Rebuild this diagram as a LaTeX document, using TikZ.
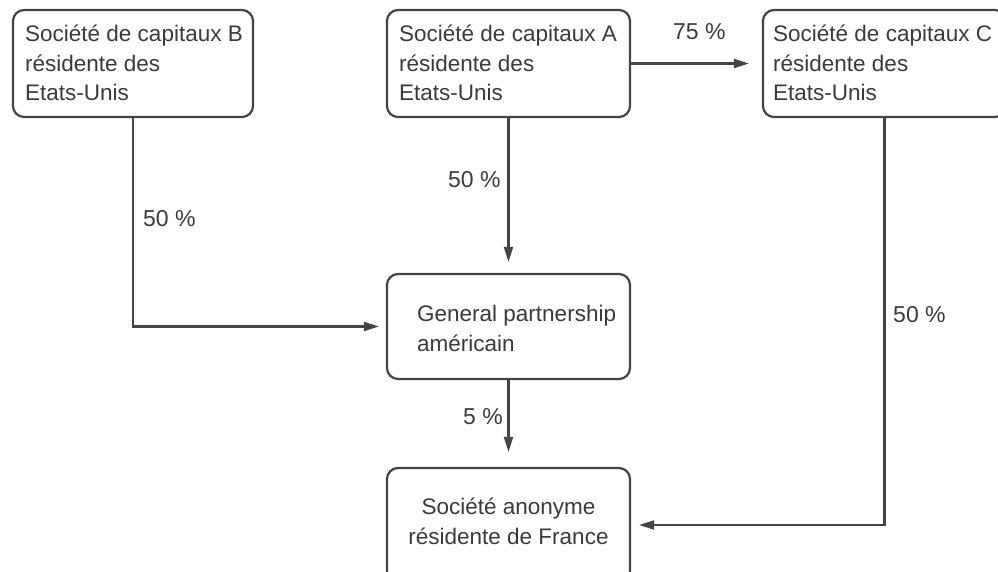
\documentclass[tikz,border=0pt]{standalone}
\usepackage{fontspec}
\setmainfont{Liberation Sans}
\usetikzlibrary{arrows.meta}
\definecolor{ink}{HTML}{3A3A3A}
\definecolor{edge}{HTML}{444444}
\tikzset{
  box/.style={draw=edge, line width=2.2pt, rounded corners=11pt, inner sep=0pt},
  txt/.style={text=ink, inner sep=0pt, font=\fontsize{22.5}{29.5}\selectfont},
  lbl/.style={text=ink, inner sep=0pt, font=\fontsize{23}{28}\selectfont},
  conn/.style={draw=edge, line width=2.2pt, -{Triangle[length=15pt,width=9pt]}}
}
\begin{document}
\begin{tikzpicture}[x=1pt,y=1pt]
\useasboundingbox (0,0) rectangle (998,-572);
% boxes
\node[box, minimum width=240pt, minimum height=107pt] (B) at (133,-63.5) {};
\node[box, minimum width=243pt, minimum height=107pt] (A) at (508.5,-63.5) {};
\node[box, minimum width=243pt, minimum height=107pt] (C) at (884.5,-63.5) {};
\node[box, minimum width=243pt, minimum height=105pt] (GP) at (508.5,-326.5) {};
\node[box, minimum width=243pt, minimum height=114pt] (SA) at (508.5,-525) {};
% texts
\node[txt, align=left, anchor=north west] (Bt) at (25,-25) {Société de capitaux B\\résidente des\\Etats-Unis};
\node[txt, align=left, anchor=north west] (At) at (399,-25) {Société de capitaux A\\résidente des\\Etats-Unis};
\node[txt, align=left, anchor=north west] (Ct) at (773,-25) {Société de capitaux C\\résidente des\\Etats-Unis};
\node[txt, align=left, anchor=north west] (GPt) at (417,-305) {General partnership\\américain};
\node[txt, align=center, anchor=north] (SAt) at (508.5,-498) {Société anonyme\\résidente de France};
% connectors
\draw[conn, shorten >=13pt] (A.east) -- (C.west);
\draw[conn, shorten >=11pt] (A.south) -- (GP.north);
\draw[conn, shorten >=15pt] (GP.south) -- (SA.north);
\draw[conn, shorten >=7pt] (B.south) |- (GP.west);
\draw[conn, shorten >=8pt] (C.south) |- (SA.east);
% labels
\node[lbl, anchor=base west] (l75) at (673,-40) {75 \%};
\node[lbl, anchor=base west] (l50a) at (448,-188) {50 \%};
\node[lbl, anchor=base west] (l50b) at (143,-226) {50 \%};
\node[lbl, anchor=base west] (l5) at (463,-424) {5 \%};
\node[lbl, anchor=base west] (l50c) at (893,-322) {50 \%};
\end{tikzpicture}
\end{document}
